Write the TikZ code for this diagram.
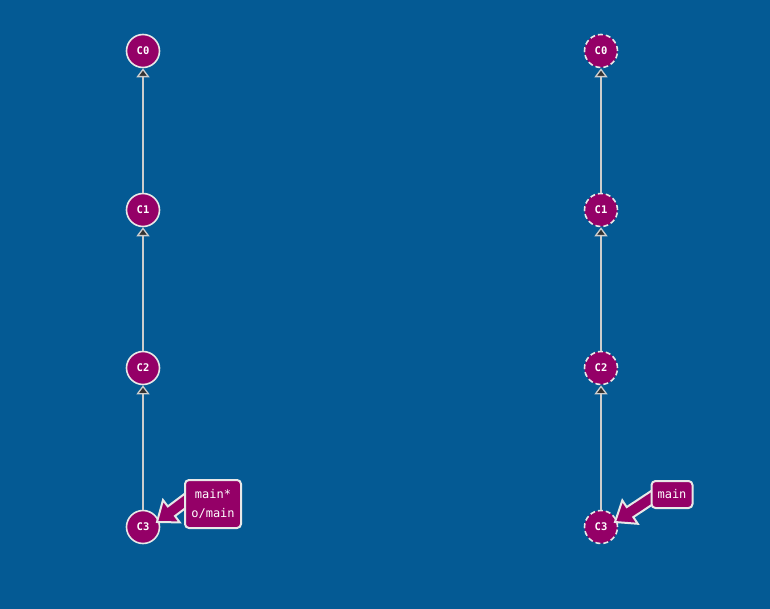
\documentclass[tikz,border=0pt]{standalone}
\usepackage{fontspec}
\setmonofont{DejaVu Sans Mono}
\usetikzlibrary{calc,arrows.meta}
\definecolor{bg}{RGB}{4,90,148}
\definecolor{cpurple}{RGB}{148,0,103}
\definecolor{cborder}{RGB}{232,232,232}
\definecolor{cline}{RGB}{205,205,205}
\begin{document}
\begin{tikzpicture}[x=1pt,y=-1pt,
  commit/.style={circle,fill=cpurple,draw=cborder,line width=1.6pt,minimum size=33pt,inner sep=0pt,text=white,font=\ttfamily\bfseries\fontsize{10.5}{10.5}\selectfont},
  dashedcommit/.style={commit,dash pattern=on 5pt off 3pt},
  parent/.style={draw=cline,line width=1.3pt,-{Triangle[open,length=9pt,width=13pt,fill=black!80]}},
  pointer/.style={fill=cpurple,draw=cborder,line width=2pt,line join=miter},
  refbox/.style={rectangle,rounded corners=4pt,fill=cpurple,draw=cborder,line width=2pt,text=white,font=\ttfamily\fontsize{12}{19}\selectfont,align=center,inner sep=3pt}
]
\path[fill=bg,use as bounding box] (0,0) rectangle (770,609);

% left column
\node[commit] (L0) at (143,51) {C0};
\node[commit] (L1) at (143,210) {C1};
\node[commit] (L2) at (143,368) {C2};
\node[commit] (L3) at (143,527) {C3};
\draw[parent] (L1) -- (L0);
\draw[parent] (L2) -- (L1);
\draw[parent] (L3) -- (L2);

% right column
\node[dashedcommit] (R0) at (601,51) {C0};
\node[dashedcommit] (R1) at (601,210) {C1};
\node[dashedcommit] (R2) at (601,368) {C2};
\node[dashedcommit] (R3) at (601,527) {C3};
\draw[parent] (R1) -- (R0);
\draw[parent] (R2) -- (R1);
\draw[parent] (R3) -- (R2);

% left pointer
\coordinate (t1) at ($(L3)+(14,-5)$);
\coordinate (s1) at (205,486);
\coordinate (h1) at ($(t1)!18pt!(s1)$);
\filldraw[pointer] (t1) -- ($(h1)!14pt!90:(s1)$) -- ($(h1)!6pt!90:(s1)$) -- ($(s1)!6pt!-90:(t1)$)
  -- ($(s1)!6pt!90:(t1)$) -- ($(h1)!6pt!-90:(s1)$) -- ($(h1)!14pt!-90:(s1)$) -- cycle;
\node[refbox,minimum width=56pt,minimum height=48pt] (B1) at (213,504) {main*\\o/main};

% right pointer
\coordinate (t2) at ($(R3)+(14,-5)$);
\coordinate (s2) at (662,491);
\coordinate (h2) at ($(t2)!18pt!(s2)$);
\filldraw[pointer] (t2) -- ($(h2)!14pt!90:(s2)$) -- ($(h2)!6pt!90:(s2)$) -- ($(s2)!6pt!-90:(t2)$)
  -- ($(s2)!6pt!90:(t2)$) -- ($(h2)!6pt!-90:(s2)$) -- ($(h2)!14pt!-90:(s2)$) -- cycle;
\node[refbox,minimum width=41pt,minimum height=27pt] (B2) at (672,494.5) {main};
\end{tikzpicture}
\end{document}
